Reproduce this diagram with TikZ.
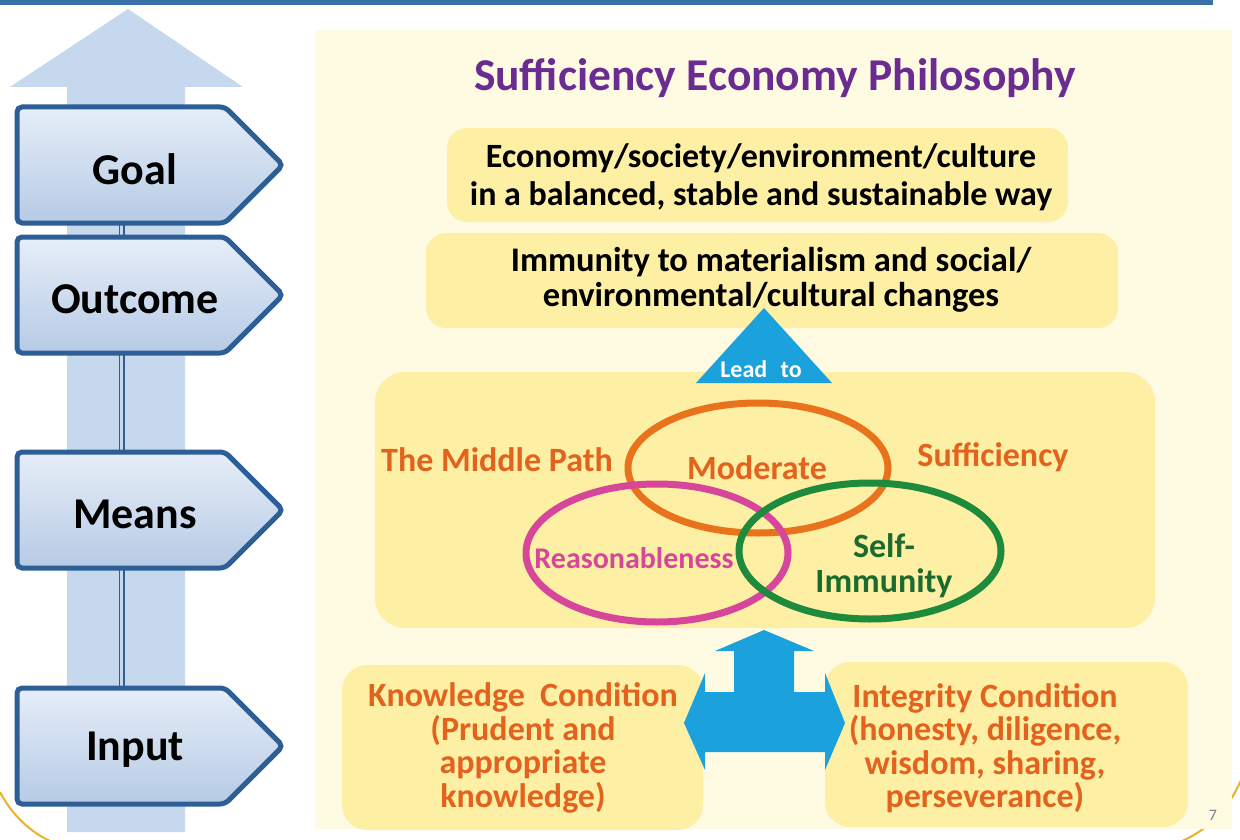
\documentclass[tikz,border=0pt]{standalone}
\usepackage{fontspec}
\setmainfont{Carlito}
\usetikzlibrary{positioning}
\definecolor{topline}{HTML}{3B6FA8}
\definecolor{paneltint}{HTML}{FFFBE3}
\definecolor{shaftblue}{HTML}{C6D8EE}
\definecolor{stageedge}{HTML}{2D5E95}
\definecolor{stagetop}{HTML}{E6EEF8}
\definecolor{stagebot}{HTML}{B6CAE5}
\definecolor{boxyellow}{HTML}{FDEFA4}
\definecolor{arrowblue}{HTML}{1BA1DC}
\definecolor{titlepurple}{HTML}{6A2C91}
\definecolor{ringorange}{HTML}{E9731C}
\definecolor{textorange}{HTML}{E2621E}
\definecolor{ringpink}{HTML}{D6479B}
\definecolor{ringgreen}{HTML}{1E8A3C}
\definecolor{textgreen}{HTML}{1B6B2E}
\definecolor{swoosh}{HTML}{E8B32A}
\tikzset{stagebox/.style = {draw=stageedge, line width=5, rounded corners=5, top color=stagetop, bottom color=stagebot}}
\tikzset{stagelabel/.style = {inner sep=0, font=\fontsize{44}{50}\selectfont\bfseries}}
\tikzset{ybox/.style = {fill=boxyellow, rounded corners=20, inner sep=0}}
\tikzset{boxtext/.style = {inner sep=0, align=center, font=\fontsize{34}{38}\selectfont\bfseries}}
\tikzset{ring/.style = {line width=7}}
\tikzset{pathlabel/.style = {inner sep=0, align=center, font=\fontsize{34}{35}\selectfont\bfseries}}
\tikzset{condtext/.style = {inner sep=0, align=center, text=textorange, font=\fontsize{34}{33.5}\selectfont\bfseries}}

\begin{document}
\begin{tikzpicture}[x=1pt, y=-1pt]
    \useasboundingbox (0, 0) rectangle (1240, 840);
    \fill[white] (0, 0) rectangle (1240, 840);

    % frame of the slide
    \fill[topline] (0, 0) rectangle (1213, 5);
    \draw[swoosh, line width=2] (0, 792) .. controls (12, 815) and (30, 832) .. (52, 842);
    \draw[swoosh, line width=2] (1242, 778) .. controls (1230, 806) and (1212, 828) .. (1180, 842);
    \fill[paneltint] (315, 30) rectangle (1232, 829);
    \node[text=gray, font=\fontsize{16}{18}\selectfont] (pageno) at (1213, 815) {7};

    % stages on the left
    \fill[shaftblue] (67, 832) -- (67, 87) -- (10, 87) -- (128, 9) -- (243, 87) -- (185, 87) -- (185, 832) -- cycle;
    \coordinate (goal-b) at (121.5, 222);
    \coordinate (input-t) at (121.5, 687);
    \draw[stageedge, line width=1.5, double=shaftblue, double distance=3] (goal-b) -- (input-t);
    \foreach \yt/\lab/\nm in {107/Goal/goal, 237/Outcome/outcome, 452/Means/means, 688/Input/input} {
        \draw[stagebox] (17, \yt) -- ++(208, 0) -- ++(58, 58) -- ++(-58, 58) -- ++(-208, 0) -- cycle;
        \node[stagelabel] (\nm) at (135, \yt + 62) {\lab};
    }

    \node[inner sep=0, text=titlepurple, font=\fontsize{45.5}{52}\selectfont\bfseries] (title) at (775, 78) {Sufficiency Economy Philosophy};

    \node[ybox, minimum width=621, minimum height=94] (goalbox) at (757.5, 175) {};
    \node[boxtext] (goaltext) at (761, 177) {Economy/society/environment/culture\\in a balanced, stable and sustainable way};
    \node[ybox, minimum width=692, minimum height=95] (outbox) at (772, 280.5) {};
    \node[boxtext, font=\fontsize{34.5}{35}\selectfont\bfseries] (outtext) at (771, 279.5) {Immunity to materialism and social/\\environmental/cultural changes};

    % lead to
    \node[ybox, rounded corners=30, minimum width=780, minimum height=256] (meansbox) at (765, 500) {};
    \fill[arrowblue] (696, 383) -- (764, 308) -- (832, 383) -- cycle;
    \node[inner sep=0, text=white, font=\fontsize{24}{26}\selectfont\bfseries] (leadto) at (761, 369) {Lead\,\, to};

    % the three rings
    \draw[ring, ringorange] (758, 468) ellipse [x radius=130, y radius=65];
    \draw[ring, ringpink] (657, 553) ellipse [x radius=131, y radius=69];
    \draw[ring, ringgreen] (870, 551) ellipse [x radius=131, y radius=68];
    \node[pathlabel, text=textorange] (midpath) at (497, 460) {The Middle Path};
    \node[pathlabel, text=textorange] (moderate) at (757, 468) {Moderate};
    \node[pathlabel, text=textorange] (suff) at (993, 457) {Sufficiency};
    \node[pathlabel, text=ringpink, font=\fontsize{30}{35}\selectfont\bfseries] (reason) at (634, 558) {Reasonableness};
    \node[pathlabel, text=textgreen] (selfimm) at (884, 566) {Self-\\Immunity};

    % conditions
    \node[ybox, rounded corners=25, minimum width=361, minimum height=165] (knowbox) at (522.5, 747.5) {};
    \node[ybox, rounded corners=25, minimum width=363, minimum height=165] (integbox) at (1006.5, 744.5) {};
    \fill[arrowblue] (764, 630) -- (814, 651) -- (794, 651) -- (794, 692) -- (825, 692) -- (825, 673) -- (845, 723)
        -- (825, 770) -- (825, 752) -- (705, 752) -- (705, 770) -- (684, 723) -- (705, 673) -- (705, 692)
        -- (734, 692) -- (734, 651) -- (715, 651) -- cycle;
    \node[condtext] (knowtext) at (523, 748) {Knowledge~~Condition\\(Prudent and\\appropriate\\knowledge)};
    \node[condtext] (integtext) at (985, 748) {Integrity Condition\\(honesty, diligence,\\wisdom, sharing,\\perseverance)};
\end{tikzpicture}
\end{document}
